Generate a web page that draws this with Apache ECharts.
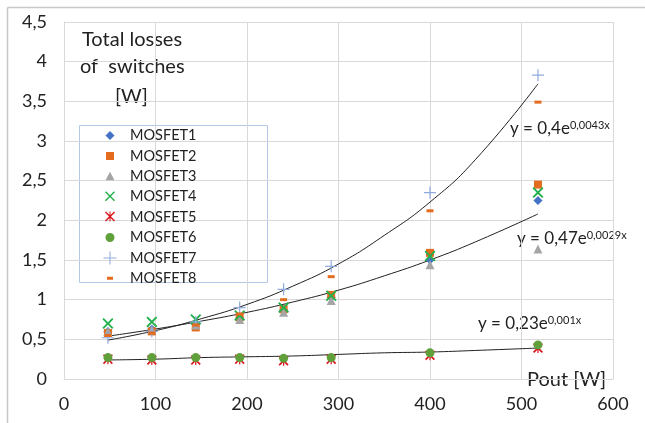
<!DOCTYPE html>
<html>
<head>
<meta charset="utf-8">
<script src="https://cdn.jsdelivr.net/npm/echarts@6/dist/echarts.min.js"></script>
<style>
  html, body { margin: 0; padding: 0; background: #fff; }
  #chart { width: 645px; height: 423px; }
</style>
</head>
<body>
<div id="chart"></div>
<script>
// x positions of the measurements (Pout, W)
var pout = [48, 96, 144, 192, 240, 292, 400, 518];

var mosfet1 = [0.60, 0.63, 0.70, 0.77, 0.87, 1.03, 1.50, 2.25];
var mosfet2 = [0.58, 0.60, 0.65, 0.78, 0.88, 1.06, 1.59, 2.45];
var mosfet3 = [0.60, 0.62, 0.68, 0.75, 0.84, 0.99, 1.44, 1.64];
var mosfet4 = [0.70, 0.72, 0.75, 0.80, 0.90, 1.05, 1.55, 2.35];
var mosfet5 = [0.25, 0.24, 0.24, 0.25, 0.23, 0.25, 0.30, 0.39];
var mosfet6 = [0.27, 0.27, 0.27, 0.27, 0.26, 0.27, 0.33, 0.43];
var mosfet7 = [0.52, 0.60, 0.72, 0.90, 1.13, 1.42, 2.35, 3.83];
var mosfet8 = [0.55, 0.58, 0.68, 0.82, 1.00, 1.29, 2.12, 3.49];

// trend lines
var trendX = [48, 100, 150, 200, 250, 300, 350, 400, 450, 518];
var trend1 = [0.49, 0.61, 0.76, 0.94, 1.17, 1.45, 1.81, 2.23, 2.77, 3.72];
var trend2 = [0.54, 0.63, 0.73, 0.84, 0.97, 1.12, 1.30, 1.50, 1.73, 2.08];
var trend3 = [0.24, 0.25, 0.27, 0.28, 0.29, 0.31, 0.33, 0.34, 0.36, 0.39];

var names = ['MOSFET1','MOSFET2','MOSFET3','MOSFET4','MOSFET5','MOSFET6','MOSFET7','MOSFET8'];
var values = [mosfet1, mosfet2, mosfet3, mosfet4, mosfet5, mosfet6, mosfet7, mosfet8];
var colors = ['#4472c4','#e46c1e','#a5a5a5','#22b04c','#d9151b','#5fa03a','#8faadc','#e46c1e'];

var xPath = 'path://M0,1.2L1.2,0L5,3.8L8.8,0L10,1.2L6.2,5L10,8.8L8.8,10L5,6.2L1.2,10L0,8.8L3.8,5Z';
var starPath = 'path://M0,1.2L1.2,0L5,3.8L8.8,0L10,1.2L6.2,5L10,8.8L8.8,10L5,6.2L1.2,10L0,8.8L3.8,5Z M4.4,0L5.6,0L5.6,10L4.4,10Z';
var plusPath = 'path://M4.5,0L5.5,0L5.5,4.5L10,4.5L10,5.5L5.5,5.5L5.5,10L4.5,10L4.5,5.5L0,5.5L0,4.5L4.5,4.5Z';
var symbols = ['diamond','rect','triangle', xPath, starPath,'circle', plusPath,'rect'];
var sizes = [9, 8, 9, 11, 10, 9, 12, [7, 3]];

// legend icons: 30x14 box, shape centred (corner dots keep the box size)
var box = 'M0,0L0.01,0Z M30,14L29.99,14Z ';
var legendIcons = [
    'path://' + box + 'M15,2.5L19.5,7L15,11.5L10.5,7Z',
    'path://' + box + 'M11,3H19V11H11Z',
    'path://' + box + 'M15,2.5L19.5,11H10.5Z',
    'path://' + box + 'M10,2.5L11,1.5L15,5.5L19,1.5L20,2.5L16,6.5L20,10.5L19,11.5L15,7.5L11,11.5L10,10.5L14,6.5Z',
    'path://' + box + 'M10,2.5L11,1.5L15,5.5L19,1.5L20,2.5L16,6.5L20,10.5L19,11.5L15,7.5L11,11.5L10,10.5L14,6.5Z M14.5,1.5H15.5V11.5H14.5Z',
    'path://' + box + 'M15,2.5A4.5,4.5,0,1,1,14.99,2.5Z',
    'path://' + box + 'M14.5,0.5H15.5V6.5H21.5V7.5H15.5V13.5H14.5V7.5H8.5V6.5H14.5Z',
    'path://' + box + 'M12,5.5H18V8.5H12Z'
];

function pairs(xs, ys) {
    return xs.map(function (x, i) { return [x, ys[i]]; });
}

var font = 'Lato, "Open Sans", sans-serif';

var series = names.map(function (n, i) {
    return {
        name: n,
        type: 'scatter',
        symbol: symbols[i],
        symbolSize: sizes[i],
        itemStyle: { color: colors[i], opacity: 1 },
        data: pairs(pout, values[i]),
        z: 3
    };
});

[trend1, trend2, trend3].forEach(function (t, i) {
    series.push({
        name: 'trend' + (i + 1),
        type: 'line',
        smooth: true,
        showSymbol: false,
        symbol: 'none',
        lineStyle: { color: '#222', width: 1 },
        data: pairs(trendX, t),
        z: 2
    });
});

function eq(base, sup, left, top) {
    return {
        type: 'text', left: left, top: top,
        style: {
            text: '{b|' + base + '}{s|' + sup + '}',
            rich: {
                b: { fontSize: 17, fontFamily: font, fill: '#222', verticalAlign: 'bottom' },
                s: { fontSize: 11, fontFamily: font, fill: '#222', verticalAlign: 'top' }
            }
        }
    };
}

var myChart = echarts.init(document.getElementById('chart'));
var option = {
    backgroundColor: '#fff',
    animation: false,
    grid: { left: 64, right: 32, top: 22, bottom: 44 },
    xAxis: {
        type: 'value', min: 0, max: 600, interval: 100,
        axisLine: { show: true, lineStyle: { color: '#d9d9d9' } },
        axisTick: { show: false },
        splitLine: { lineStyle: { color: '#d9d9d9' } },
        axisLabel: { color: '#222', fontSize: 18, fontFamily: font, margin: 16 }
    },
    yAxis: {
        type: 'value', min: 0, max: 4.5, interval: 0.5,
        axisLine: { show: true, lineStyle: { color: '#d9d9d9' } },
        axisTick: { show: false },
        splitLine: { lineStyle: { color: '#d9d9d9' } },
        axisLabel: {
            color: '#222', fontSize: 18, fontFamily: font, margin: 17,
            formatter: function (v) { return String(v).replace('.', ','); }
        }
    },
    legend: {
        data: names.map(function (n, i) {
            return { name: n, icon: legendIcons[i], itemStyle: { color: colors[i], opacity: 1 } };
        }),
        orient: 'vertical',
        left: 90, top: 123,
        itemWidth: 30, itemHeight: 14, itemGap: 5.4,
        textStyle: { color: '#222', fontSize: 14.5, fontFamily: font, lineHeight: 14 }
    },
    graphic: [
        { type: 'rect', shape: { x: 79.5, y: 125.5, width: 188, height: 157 },
          style: { fill: null, stroke: '#b4c7e7', lineWidth: 1 }, z: -1 },
        { type: 'line', shape: { x1: 7.5, y1: 7.5, x2: 645, y2: 7.5 },
          style: { stroke: '#c8c8c8', lineWidth: 1.5 } },
        { type: 'line', shape: { x1: 7.5, y1: 7.5, x2: 7.5, y2: 423 },
          style: { stroke: '#c8c8c8', lineWidth: 1.5 } },
        { type: 'text', left: 82, top: 30,
          style: { text: 'Total losses', fill: '#222', font: '20px ' + font } },
        { type: 'text', left: 80, top: 57,
          style: { text: 'of  switches', fill: '#222', font: '20px ' + font } },
        { type: 'text', left: 115, top: 87,
          style: { text: '[W]', fill: '#222', font: '20px ' + font } },
        { type: 'text', left: 527, top: 370,
          style: { text: 'Pout [W]', fill: '#222', font: '20px ' + font } },
        eq('y = 0,4e', '0,0043x', 510, 120),
        eq('y = 0,47e', '0,0029x', 517, 230),
        eq('y = 0,23e', '0,001x', 478, 315)
    ],
    series: series
};
myChart.setOption(option);
</script>
</body>
</html>
